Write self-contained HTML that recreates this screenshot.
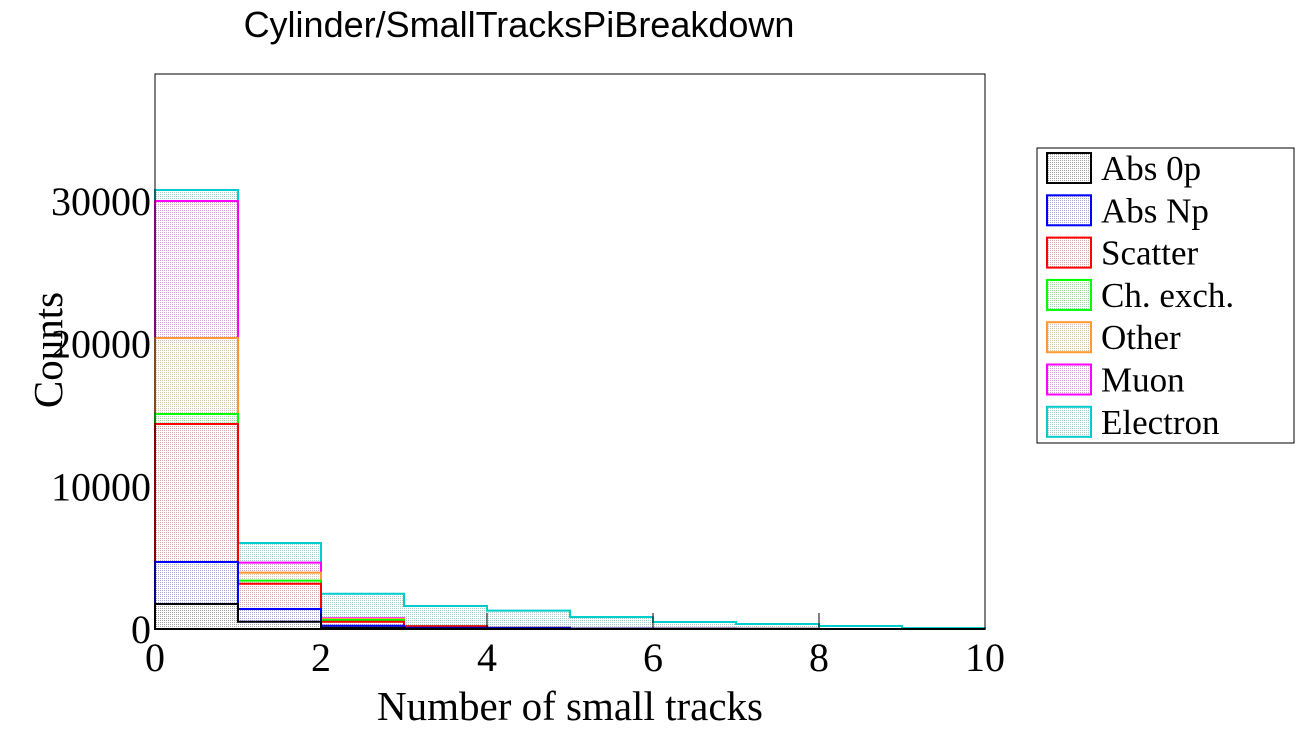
<!DOCTYPE html>
<html><head><meta charset="utf-8"><style>
body{margin:0;background:#fff;}
svg text{font-family:"Liberation Serif",serif;}
</style></head><body>
<svg id="c" width="1296" height="740" xmlns="http://www.w3.org/2000/svg">
<defs id="defs"></defs>
<text x="519" y="37" text-anchor="middle" font-size="36" style="font-family:'Liberation Sans',sans-serif">Cylinder/SmallTracksPiBreakdown</text>
<g id="bars"></g>
<rect x="155" y="74" width="830" height="555" fill="none" stroke="#000" stroke-width="1"/>
<g id="axes"></g>
<text x="570" y="720" text-anchor="middle" font-size="41">Number of small tracks</text>
<text transform="translate(62,350) rotate(-90)" text-anchor="middle" font-size="41">Counts</text>
<g id="legend">
<rect x="1037" y="148" width="257" height="295" fill="#fff" stroke="#000" stroke-width="1"/>
</g>
</svg>
<script>
const categories=[0,1,2,3,4,5,6,7,8,9];
const seriesNames=["Abs 0p","Abs Np","Scatter","Ch. exch.","Other","Muon","Electron"];
const seriesColors=["#000000","#0000ff","#ff0000","#00ff00","#ff9933","#ff00ff","#00cccc"];
const abs0p=[1750,510,90,30,20,10,5,0,0,0];
const absNp=[2950,890,140,60,60,20,10,5,0,0];
const scatter=[9670,1770,280,100,0,0,0,0,0,0];
const chexch=[700,220,120,0,0,0,0,0,0,0];
const other=[5330,560,70,0,0,0,0,0,0,0];
const muon=[9600,700,50,0,0,0,0,0,0,0];
const electron=[770,1380,1725,1420,1210,810,475,345,210,70];
const xTicks=[0,2,4,6,8,10];
const yTicks=[0,10000,20000,30000];
const yMax=38900;
const NS="http://www.w3.org/2000/svg";
const X0=155,X1=985,Y0=629,Y1=74;
const xs=v=>X0+(v/10)*(X1-X0);
const ys=v=>Y0-(v/yMax)*(Y0-Y1);
function mk(t,a,p){const e=document.createElementNS(NS,t);for(const k in a)e.setAttribute(k,a[k]);p.appendChild(e);return e;}
const series=[abs0p,absNp,scatter,chexch,other,muon,electron];
const defs=document.getElementById('defs');
seriesColors.forEach((c,i)=>{
  const p=mk('pattern',{id:'p'+i,width:2,height:2,patternUnits:'userSpaceOnUse'},defs);
  mk('rect',{x:0,y:0,width:2,height:2,fill:'#fff'},p);
  mk('rect',{x:0,y:0,width:1,height:1,fill:'#999',opacity:0.5},p);
  mk('rect',{x:0,y:0,width:1,height:1,fill:c,opacity:i==0?0.2:0.18},p);
});
const cum=[];let run=categories.map(()=>0);
series.forEach(s=>{run=run.map((v,j)=>v+s[j]);cum.push(run.slice());});
const bars=document.getElementById('bars');
for(let i=series.length-1;i>=0;i--){
  const c=cum[i];
  let d='M'+xs(categories[0])+','+Y0;
  categories.forEach((b,j)=>{d+=' L'+xs(b)+','+ys(c[j])+' L'+xs(b+1)+','+ys(c[j]);});
  d+=' L'+xs(categories[categories.length-1]+1)+','+Y0+' Z';
  const e=mk('path',{d:d,fill:'url(#p'+i+')',stroke:seriesColors[i],'stroke-width':2},bars);
  
  
}
const axes=document.getElementById('axes');
xTicks.forEach(t=>{
  mk('line',{x1:xs(t),y1:Y0,x2:xs(t),y2:Y0-16,stroke:'#000'},axes);
  const tx=mk('text',{x:xs(t),y:671,'text-anchor':'middle','font-size':40},axes);
  tx.textContent=t;
  
  
});
yTicks.forEach(t=>{
  const tx=mk('text',{x:151,y:ys(t)+14,'text-anchor':'end','font-size':40},axes);
  tx.textContent=t;
  
  
});
const leg=document.getElementById('legend');
seriesNames.forEach((n,i)=>{
  const y=153+i*42.3;
  const g=mk('g',{},leg);
  
  
  mk('rect',{x:1047,y:y,width:44,height:30,fill:'url(#p'+i+')',stroke:seriesColors[i],'stroke-width':2},g);
  const t=mk('text',{x:1101,y:y+27,'font-size':35},g);
  t.textContent=n;
});
</script>
</body></html>
